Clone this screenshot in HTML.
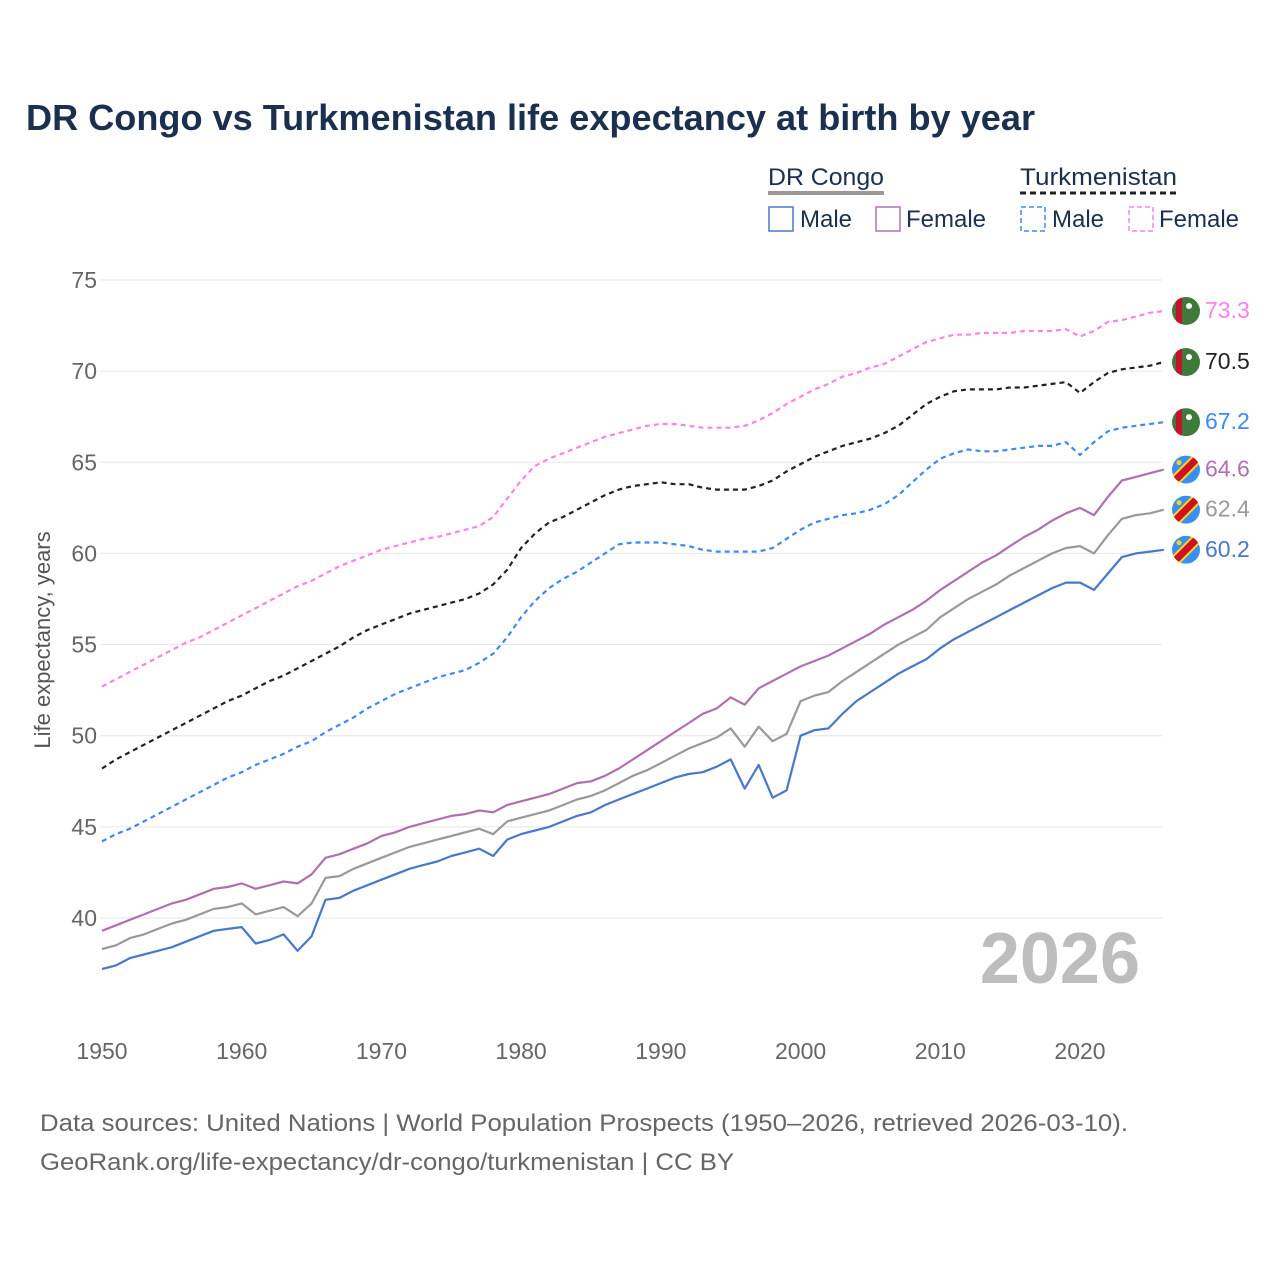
<!DOCTYPE html>
<html><head><meta charset="utf-8">
<style>
body{margin:0;background:#fff;font-family:"Liberation Sans",sans-serif;}
svg text{font-family:"Liberation Sans",sans-serif;}
</style></head>
<body>
<svg id="chart" width="1280" height="1280" viewBox="0 0 1280 1280" xmlns="http://www.w3.org/2000/svg">
<rect width="1280" height="1280" fill="#fff"/>
<text x="26" y="130" font-size="36" font-weight="bold" fill="#1b2f4e" textLength="1009" lengthAdjust="spacingAndGlyphs">DR Congo vs Turkmenistan life expectancy at birth by year</text>
<g>
  <text x="768" y="185" font-size="24" fill="#1b2f4e" textLength="116" lengthAdjust="spacingAndGlyphs">DR Congo</text>
  <line x1="768" y1="193" x2="884" y2="193" stroke="#999" stroke-width="4"/>
  <text x="1020" y="185" font-size="24" fill="#1b2f4e" textLength="157" lengthAdjust="spacingAndGlyphs">Turkmenistan</text>
  <line x1="1020" y1="193" x2="1178" y2="193" stroke="#222" stroke-width="3" stroke-dasharray="6,4"/>
  <g><rect x="769" y="207" width="24" height="24" fill="none" stroke="#4a78c8" stroke-width="1.5"/><text x="800" y="227" font-size="24" fill="#1b2f4e">Male</text></g>
  <g><rect x="876" y="207" width="24" height="24" fill="none" stroke="#b070b0" stroke-width="1.5"/><text x="906" y="227" font-size="24" fill="#1b2f4e">Female</text></g>
  <g><rect x="1021" y="207" width="24" height="24" fill="none" stroke="#3d8af7" stroke-width="1.5" stroke-dasharray="5,3"/><text x="1052" y="227" font-size="24" fill="#1b2f4e">Male</text></g>
  <g><rect x="1129" y="207" width="24" height="24" fill="none" stroke="#ff80f0" stroke-width="1.5" stroke-dasharray="5,3"/><text x="1159" y="227" font-size="24" fill="#1b2f4e">Female</text></g>
</g>
<g id="grid"></g>
<g id="yticks"></g>
<g id="xticks"></g>
<text transform="translate(50,640) rotate(-90)" text-anchor="middle" font-size="22" fill="#555">Life expectancy, years</text>
<text x="1140" y="983" text-anchor="end" font-size="72" font-weight="bold" fill="#bdbdbd">2026</text>
<g id="series"></g>
<g id="ends"></g>
<text x="40" y="1131" font-size="24.5" fill="#666" textLength="1088" lengthAdjust="spacingAndGlyphs">Data sources: United Nations | World Population Prospects (1950–2026, retrieved 2026-03-10).</text>
<text x="40" y="1170" font-size="24.5" fill="#666" textLength="694" lengthAdjust="spacingAndGlyphs">GeoRank.org/life-expectancy/dr-congo/turkmenistan | CC BY</text>
</svg>
<script>
const startYear = 1950;
const yTicks = [40,45,50,55,60,65,70,75];
const xTicks = [1950,1960,1970,1980,1990,2000,2010,2020];
const tkmFemale = [52.7,53.1,53.5,53.9,54.3,54.7,55.1,55.4,55.8,56.2,56.6,57.0,57.4,57.8,58.2,58.5,58.9,59.3,59.6,59.9,60.2,60.4,60.6,60.8,60.9,61.1,61.3,61.5,62.0,63.0,64.0,64.8,65.2,65.5,65.8,66.1,66.4,66.6,66.8,67.0,67.1,67.1,67.0,66.9,66.9,66.9,67.0,67.3,67.7,68.2,68.6,69.0,69.3,69.7,69.9,70.2,70.4,70.8,71.2,71.6,71.8,72.0,72.0,72.1,72.1,72.1,72.2,72.2,72.2,72.3,71.9,72.2,72.7,72.8,73.0,73.2,73.3];
const tkmTotal = [48.2,48.7,49.1,49.5,49.9,50.3,50.7,51.1,51.5,51.9,52.2,52.6,53.0,53.3,53.7,54.1,54.5,54.9,55.4,55.8,56.1,56.4,56.7,56.9,57.1,57.3,57.5,57.8,58.3,59.1,60.3,61.1,61.7,62.0,62.4,62.8,63.2,63.5,63.7,63.8,63.9,63.8,63.8,63.6,63.5,63.5,63.5,63.7,64.0,64.5,64.9,65.3,65.6,65.9,66.1,66.3,66.6,67.0,67.6,68.2,68.6,68.9,69.0,69.0,69.0,69.1,69.1,69.2,69.3,69.4,68.8,69.4,69.9,70.1,70.2,70.3,70.5];
const tkmMale = [44.2,44.6,44.9,45.3,45.7,46.1,46.5,46.9,47.3,47.7,48.0,48.4,48.7,49.0,49.4,49.7,50.2,50.6,51.0,51.5,51.9,52.3,52.6,52.9,53.2,53.4,53.6,54.0,54.5,55.4,56.5,57.4,58.1,58.6,59.0,59.5,60.0,60.5,60.6,60.6,60.6,60.5,60.4,60.2,60.1,60.1,60.1,60.1,60.3,60.8,61.3,61.7,61.9,62.1,62.2,62.4,62.7,63.2,63.9,64.6,65.2,65.5,65.7,65.6,65.6,65.7,65.8,65.9,65.9,66.1,65.4,66.1,66.7,66.9,67.0,67.1,67.2];
const drcFemale = [39.3,39.6,39.9,40.2,40.5,40.8,41.0,41.3,41.6,41.7,41.9,41.6,41.8,42.0,41.9,42.4,43.3,43.5,43.8,44.1,44.5,44.7,45.0,45.2,45.4,45.6,45.7,45.9,45.8,46.2,46.4,46.6,46.8,47.1,47.4,47.5,47.8,48.2,48.7,49.2,49.7,50.2,50.7,51.2,51.5,52.1,51.7,52.6,53.0,53.4,53.8,54.1,54.4,54.8,55.2,55.6,56.1,56.5,56.9,57.4,58.0,58.5,59.0,59.5,59.9,60.4,60.9,61.3,61.8,62.2,62.5,62.1,63.1,64.0,64.2,64.4,64.6];
const drcTotal = [38.3,38.5,38.9,39.1,39.4,39.7,39.9,40.2,40.5,40.6,40.8,40.2,40.4,40.6,40.1,40.8,42.2,42.3,42.7,43.0,43.3,43.6,43.9,44.1,44.3,44.5,44.7,44.9,44.6,45.3,45.5,45.7,45.9,46.2,46.5,46.7,47.0,47.4,47.8,48.1,48.5,48.9,49.3,49.6,49.9,50.4,49.4,50.5,49.7,50.1,51.9,52.2,52.4,53.0,53.5,54.0,54.5,55.0,55.4,55.8,56.5,57.0,57.5,57.9,58.3,58.8,59.2,59.6,60.0,60.3,60.4,60.0,61.0,61.9,62.1,62.2,62.4];
const drcMale = [37.2,37.4,37.8,38.0,38.2,38.4,38.7,39.0,39.3,39.4,39.5,38.6,38.8,39.1,38.2,39.0,41.0,41.1,41.5,41.8,42.1,42.4,42.7,42.9,43.1,43.4,43.6,43.8,43.4,44.3,44.6,44.8,45.0,45.3,45.6,45.8,46.2,46.5,46.8,47.1,47.4,47.7,47.9,48.0,48.3,48.7,47.1,48.4,46.6,47.0,50.0,50.3,50.4,51.2,51.9,52.4,52.9,53.4,53.8,54.2,54.8,55.3,55.7,56.1,56.5,56.9,57.3,57.7,58.1,58.4,58.4,58.0,58.9,59.8,60.0,60.1,60.2];

const NS="http://www.w3.org/2000/svg";
const xScale = yr => 102 + (yr-1950)*(1080-102)/70;
const yScale = v => 918 - (v-40)*(918-280)/35;
function mk(tag, attrs, parent){const e=document.createElementNS(NS,tag);for(const k in attrs)e.setAttribute(k,attrs[k]);parent.appendChild(e);return e;}

const grid=document.getElementById('grid'), yt=document.getElementById('yticks'), xt=document.getElementById('xticks');
yTicks.forEach(v=>{
  const l=mk('line',{x1:100,x2:1162,y1:yScale(v),y2:yScale(v),stroke:'#e6e6e6','stroke-width':1},grid);
  
  
  const t=mk('text',{x:97,y:yScale(v)+8,'text-anchor':'end','font-size':23,fill:'#666'},yt);
  t.textContent=v;
  
  
});
xTicks.forEach(v=>{
  const t=mk('text',{x:xScale(v),y:1059,'text-anchor':'middle','font-size':23,fill:'#666'},xt);
  t.textContent=v;
  
  
});

const series=[
  {name:'drc-male',data:drcMale,color:'#4a78c8',dash:null,flag:'drc'},
  {name:'drc-total',data:drcTotal,color:'#999999',dash:null,flag:'drc'},
  {name:'drc-female',data:drcFemale,color:'#b070b0',dash:null,flag:'drc'},
  {name:'tkm-male',data:tkmMale,color:'#3d8af7',dash:'5,4',flag:'tkm'},
  {name:'tkm-total',data:tkmTotal,color:'#222222',dash:'5,4',flag:'tkm'},
  {name:'tkm-female',data:tkmFemale,color:'#ff80f0',dash:'5,4',flag:'tkm'}
];
const sg=document.getElementById('series'), eg=document.getElementById('ends');
series.forEach(s=>{
  const pts=s.data.map((v,i)=>xScale(startYear+i).toFixed(1)+','+yScale(v).toFixed(1)).join(' ');
  const attrs={points:pts,fill:'none',stroke:s.color,'stroke-width':2.2,'stroke-linejoin':'round'};
  if(s.dash)attrs['stroke-dasharray']=s.dash;
  const p=mk('polyline',attrs,sg);
  
  
  const last=s.data[s.data.length-1], cy=yScale(last), cx=1186;
  const g=mk('g',{},eg);
  
  
  const cid='clip-'+s.name;
  const cp=mk('clipPath',{id:cid},g); mk('circle',{cx:cx,cy:cy,r:14},cp);
  const fg=mk('g',{'clip-path':'url(#'+cid+')'},g);
  if(s.flag==='tkm'){
    mk('rect',{x:cx-14,y:cy-14,width:28,height:28,fill:'#3f7a3a'},fg);
    mk('rect',{x:cx-10,y:cy-14,width:6,height:28,fill:'#c8102e'},fg);
    mk('circle',{cx:cx+3,cy:cy-5,r:3,fill:'#fff'},fg);
  } else {
    mk('rect',{x:cx-14,y:cy-14,width:28,height:28,fill:'#3a8ff5'},fg);
    mk('line',{x1:cx-16,y1:cy+16,x2:cx+16,y2:cy-16,stroke:'#f7d618','stroke-width':11},fg);
    mk('line',{x1:cx-16,y1:cy+16,x2:cx+16,y2:cy-16,stroke:'#ce1021','stroke-width':7},fg);
    mk('circle',{cx:cx-7,cy:cy-7,r:2.5,fill:'#f7d618'},fg);
  }
  const t=mk('text',{x:1205,y:cy+7,'font-size':23,fill:s.color==='#222222'?'#222':s.color},eg);
  t.textContent=last.toFixed(1);
  
  
});
</script>
</body></html>
